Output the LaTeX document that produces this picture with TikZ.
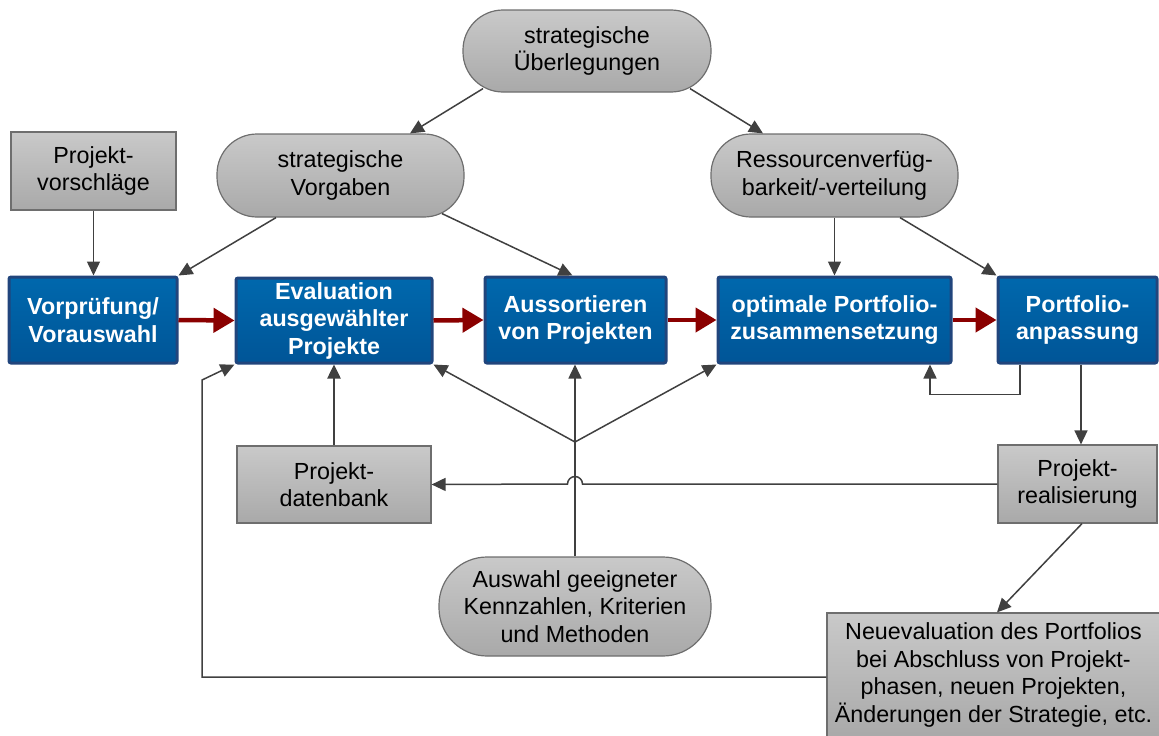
\documentclass[tikz,border=0pt]{standalone}
\usepackage{fontspec}
\setmainfont{Liberation Sans}
\usetikzlibrary{arrows.meta,calc}
\definecolor{bluetop}{HTML}{0068AD}
\definecolor{bluebot}{HTML}{005597}
\definecolor{blueline}{HTML}{21457C}
\definecolor{graytop}{HTML}{C9C9C9}
\definecolor{graybot}{HTML}{A9A9A9}
\definecolor{grayline}{HTML}{6E6E6E}
\definecolor{arrgray}{HTML}{404040}
\definecolor{darkred}{HTML}{8A0000}
\tikzset{
  txt/.style={font=\fontsize{23.3}{27.5}\selectfont, align=center, inner sep=0pt},
  bluebox/.style={txt, shape=rectangle, top color=bluetop, bottom color=bluebot, draw=blueline, line width=3pt, rounded corners=2pt, text=white, font=\fontsize{23.3}{27.5}\selectfont\bfseries},
  graybox/.style={txt, shape=rectangle, top color=graytop, bottom color=graybot, draw=grayline, line width=1.2pt},
  pill/.style={graybox, rounded corners=40pt},
  arr/.style={draw=arrgray, line width=1.5pt, -{Triangle[length=14pt,width=13pt]}, fill=none},
  redarr/.style={draw=darkred, line width=4.5pt, -{Triangle[length=21pt,width=24pt]}}
}
\begin{document}
\begin{tikzpicture}[x=1pt,y=-1pt]
\useasboundingbox (0,0) rectangle (1159,736);
% gray nodes
\node[pill, minimum width=248pt, minimum height=82pt] (ueb) at (587,51) {strategische\\Überlegungen};
\node[pill, minimum width=247pt, minimum height=83pt] (vorg) at (340.5,175.5) {strategische\\Vorgaben};
\node[pill, minimum width=247pt, minimum height=83pt] (ress) at (834.5,175.5) {Ressourcenverfüg-\\barkeit/-verteilung};
\node[graybox, minimum width=165pt, minimum height=78pt] (vorschl) at (93.5,171) {Projekt-\\vorschläge};
\node[graybox, minimum width=194pt, minimum height=77pt] (dbank) at (334,484.5) {Projekt-\\datenbank};
\node[graybox, minimum width=159pt, minimum height=78pt] (real) at (1077.5,484) {Projekt-\\realisierung};
\node[pill, rounded corners=48pt, minimum width=272pt, minimum height=99pt] (ausw) at (575,606.5) {Auswahl geeigneter\\Kennzahlen, Kriterien\\und Methoden};
\node[graybox, minimum width=333pt, minimum height=124pt] (neu) at (993.5,675) {Neuevaluation des Portfolios\\bei Abschluss von Projekt-\\phasen, neuen Projekten,\\Änderungen der Strategie, etc.};
% blue nodes
\node[bluebox, minimum width=168pt, minimum height=86pt] (vorp) at (93,320) {Vorprüfung/\\Vorauswahl};
\node[bluebox, minimum width=196pt, minimum height=85pt] (eval) at (334,320.5) {Evaluation\\ausgewählter\\Projekte};
\node[bluebox, minimum width=181pt, minimum height=86pt] (auss) at (575.5,320) {Aussortieren\\von Projekten};
\node[bluebox, minimum width=233pt, minimum height=86pt] (opt) at (834.5,320) {optimale Portfolio-\\zusammensetzung};
\node[bluebox, minimum width=159pt, minimum height=86pt] (anp) at (1077.5,320) {Portfolio-\\anpassung};
% gray connectors
\draw[arr] ([xshift=-104pt,yshift=4pt]ueb.south) -- ([xshift=69.5pt]vorg.north);
\draw[arr] ([xshift=103pt,yshift=4pt]ueb.south) -- ([xshift=-71.5pt]ress.north);
\draw[arr] (vorschl.south) -- (vorschl.south |- vorp.north);
\draw[arr] ([xshift=-64.5pt]vorg.south) -- (vorp.north east);
\draw[arr] ([xshift=101.5pt,yshift=4pt]vorg.south) -- ([xshift=-3pt]auss.north);
\draw[arr] (ress.south) -- (opt.north);
\draw[arr] ([xshift=65.5pt]ress.south) -- (anp.north west);
\draw[arr] ([xshift=-57.5pt]anp.south) -- ++(0,30) -| ([xshift=95.5pt]opt.south);
\draw[arr] ([xshift=3.5pt]anp.south) -- ([xshift=3.5pt]real.north);
\draw[arr] (real.west) -- (582.5,484) arc[start angle=0, end angle=180, radius=7.5pt] -- (dbank.east);
\coordinate (br) at (575,442);
\draw[arr] (ausw.north) -- (ausw.north |- auss.south);
\draw[arr] (br) -- (eval.south east);
\draw[arr] (br) -- (opt.south west);
\draw[arr, line width=2.5pt] (dbank.north) -- (eval.south);
\draw[arr] ([xshift=4.5pt]real.south) -- ([xshift=3.5pt]neu.north);
\coordinate (c1) at (202,380);
\draw[arr] ([yshift=-2pt]neu.west) -| (c1) -- (eval.south west);
% red connectors
\draw[redarr] (vorp.east) -- (eval.west);
\draw[redarr] (eval.east) -- (auss.west);
\draw[redarr] (auss.east) -- (opt.west);
\draw[redarr] (opt.east) -- (anp.west);
\end{tikzpicture}
\end{document}
